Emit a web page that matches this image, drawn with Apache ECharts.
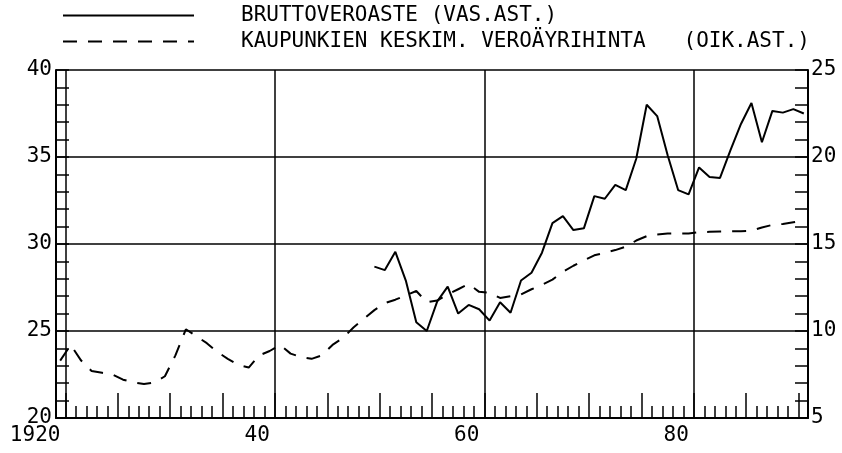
<!DOCTYPE html>
<html>
<head>
<meta charset="utf-8">
<script src="https://cdn.jsdelivr.net/npm/echarts@6/dist/echarts.min.js"></script>
<style>
html,body{margin:0;padding:0;background:#fff;}
#chart{width:842px;height:453px;}
</style>
</head>
<body>
<div id="chart"></div>
<script>
// ---- Data ----
const seriesNames = ['BRUTTOVEROASTE (VAS.AST.)', 'KAUPUNKIEN KESKIM. VEROÄYRIHINTA   (OIK.AST.)'];

// Bruttoveroaste (left axis), plotted at mid-year positions
const taxYears = [1949.5,1950.5,1951.5,1952.5,1953.5,1954.5,1955.5,1956.5,1957.5,1958.5,
  1959.5,1960.5,1961.5,1962.5,1963.5,1964.5,1965.5,1966.5,1967.5,1968.5,
  1969.5,1970.5,1971.5,1972.5,1973.5,1974.5,1975.5,1976.5,1977.5,1978.5,
  1979.5,1980.5,1981.5,1982.5,1983.5,1984.5,1985.5,1986.5,1987.5,1988.5,
  1989.5,1990.5];
const taxRate = [28.7,28.5,29.55,27.9,25.5,25.0,26.7,27.55,26.0,26.5,
  26.25,25.6,26.65,26.05,27.9,28.35,29.5,31.2,31.6,30.8,
  30.9,32.75,32.6,33.4,33.1,34.9,38.0,37.35,35.1,33.1,
  32.85,34.4,33.85,33.8,35.4,36.9,38.1,35.85,37.65,37.55,
  37.75,37.5];

// Kaupunkien keskim. veroäyrihinta (right axis)
const munYears = [1919.5,1920.5,1921.5,1922.5,1923.5,1924.5,1925.5,1926.5,1927.5,1928.5,
  1929.5,1930.5,1931.5,1932.5,1933.5,1934.5,1935.5,1936.5,1937.5,1938.5,
  1939.5,1940.5,1941.5,1942.5,1943.5,1944.5,1945.5,1946.5,1947.5,1948.5,
  1949.5,1950.5,1951.5,1952.5,1953.5,1954.5,1955.5,1956.5,1957.5,1958.5,
  1959.5,1960.5,1961.5,1962.5,1963.5,1964.5,1965.5,1966.5,1967.5,1968.5,
  1969.5,1970.5,1971.5,1972.5,1973.5,1974.5,1975.5,1976.5,1977.5,1978.5,
  1979.5,1980.5,1981.5,1982.5,1983.5,1984.5,1985.5,1986.5,1987.5,1988.5,
  1989.5,1990.5];
const munRate = [8.3,9.2,8.3,7.7,7.6,7.5,7.2,7.05,6.95,7.05,
  7.4,8.6,10.1,9.7,9.3,8.8,8.4,8.05,7.9,8.6,
  8.85,9.2,8.7,8.5,8.4,8.6,9.2,9.6,10.2,10.7,
  11.2,11.6,11.8,12.05,12.3,11.65,11.75,12.1,12.4,12.7,
  12.25,12.2,11.9,12.0,12.1,12.4,12.65,12.95,13.4,13.75,
  14.05,14.35,14.5,14.65,14.85,15.2,15.45,15.55,15.6,15.6,
  15.6,15.68,15.7,15.72,15.73,15.73,15.76,15.95,16.1,16.15,
  16.25,16.35];

// Axis ticks / labels
const yearTicks = [];
for (let y = 1920; y <= 1990; y++) yearTicks.push(y);
const fiveYearTicks = [1920,1925,1930,1935,1940,1945,1950,1955,1960,1965,1970,1975,1980,1985,1990];
const gridYears = [1920,1940,1960,1980];
const xLabelValues = [1920,1940,1960,1980];
const xLabelTexts = {1920:'1920',1940:'40',1960:'60',1980:'80'};

// ---- Chart ----
const X_MIN = 1919.1, X_MAX = 1990.9;
const FONT = 'DejaVu Sans Mono';
const black = '#000';

const chart = echarts.init(document.getElementById('chart'), null, {renderer:'canvas'});

function pairs(xs, ys){ return xs.map((x,i)=>[x, ys[i]]); }

const baseX = {type:'value', min:X_MIN, max:X_MAX, gridIndex:0, position:'bottom', offset:0};

chart.setOption({
  backgroundColor:'#fff',
  animation:false,
  legend:{
    orient:'vertical', left:57, top:0,
    itemWidth:131, itemHeight:20, itemGap:5,
    itemStyle:{opacity:0},
    textStyle:{fontFamily:FONT, fontSize:21, color:black, padding:[0,0,0,42]},
    data:seriesNames
  },
  grid:{left:56, right:34, top:70, bottom:35, containLabel:false},
  xAxis:[
    Object.assign({}, baseX, {
      axisLine:{show:true, onZero:false, lineStyle:{color:black, width:2}},
      axisTick:{show:true, inside:true, length:12, customValues:yearTicks, lineStyle:{color:black, width:1.5}},
      axisLabel:{show:false},
      splitLine:{show:false}
    }),
    Object.assign({}, baseX, {
      axisLine:{show:false},
      axisTick:{show:true, inside:true, length:25, customValues:fiveYearTicks, lineStyle:{color:black, width:1.5}},
      axisLabel:{show:true, customValues:xLabelValues, formatter:v=>xLabelTexts[v] || '',
        fontFamily:FONT, fontSize:21, color:black, align:'right', padding:[0,5,0,0], margin:7},
      splitLine:{show:false}
    }),
    Object.assign({}, baseX, {
      axisLine:{show:false},
      axisTick:{show:false, customValues:gridYears},
      axisLabel:{show:false},
      splitLine:{show:true, lineStyle:{color:black, width:1.5}}
    })
  ],
  yAxis:[
    {type:'value', min:20, max:40, interval:5, position:'left',
      axisLine:{show:true, onZero:false, lineStyle:{color:black, width:2}},
      axisTick:{show:true, inside:true, length:13, lineStyle:{color:black, width:1.5}},
      minorTick:{show:true, splitNumber:5, length:13, lineStyle:{color:black, width:1.5}},
      axisLabel:{fontFamily:FONT, fontSize:21, color:black, margin:4},
      splitLine:{show:true, lineStyle:{color:black, width:1.5}}
    },
    {type:'value', min:5, max:25, interval:5, position:'right',
      axisLine:{show:true, onZero:false, lineStyle:{color:black, width:2}},
      axisTick:{show:true, inside:true, length:13, lineStyle:{color:black, width:1.5}},
      minorTick:{show:true, splitNumber:5, length:13, lineStyle:{color:black, width:1.5}},
      axisLabel:{fontFamily:FONT, fontSize:21, color:black, margin:3},
      splitLine:{show:false}
    }
  ],
  series:[
    {name:seriesNames[0], type:'line', xAxisIndex:0, yAxisIndex:0,
      data:pairs(taxYears, taxRate), symbol:'none', showSymbol:false,
      lineStyle:{color:black, width:2, type:'solid'}, itemStyle:{color:black}},
    {name:seriesNames[1], type:'line', xAxisIndex:0, yAxisIndex:1,
      data:pairs(munYears, munRate), symbol:'none', showSymbol:false,
      lineStyle:{color:black, width:2, type:[14,11]}, itemStyle:{color:black}}
  ]
});
</script>
</body>
</html>
